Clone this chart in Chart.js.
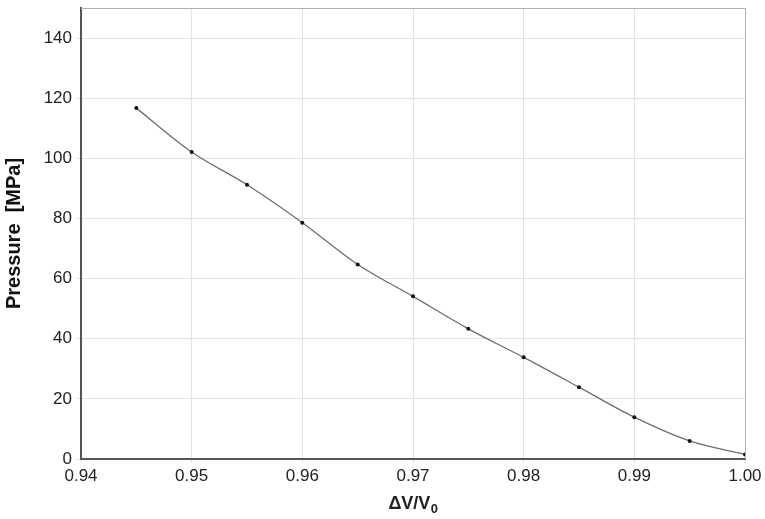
<!DOCTYPE html>
<html>
<head>
<meta charset="utf-8">
<script src="https://cdn.jsdelivr.net/npm/chart.js@4/dist/chart.umd.min.js"></script>
<style>
  html, body { margin: 0; padding: 0; background: #fff; }
  #wrap { width: 765px; height: 519px; position: relative; }
</style>
</head>
<body>
<div id="wrap"><canvas id="c"></canvas></div>
<script>
// Relative volume change ΔV/V0 and measured pressure (MPa)
const volumeRatio = [0.945, 0.950, 0.955, 0.960, 0.965, 0.970, 0.975, 0.980, 0.985, 0.990, 0.995, 1.000];
const pressure    = [116.7, 102.1, 91.2, 78.6, 64.7, 54.1, 43.3, 33.8, 23.9, 13.9, 6.0, 1.5];
const yTicks = [0, 20, 40, 60, 80, 100, 120, 140];

const points = volumeRatio.map((v, i) => ({ x: v, y: pressure[i] }));
const FONT = 'Liberation Sans, Arial, sans-serif';

// Frame the top and right sides of the plot area, and draw the x title with a subscript
const frame = {
  id: 'frame',
  afterDraw(chart) {
    const { ctx, chartArea: a } = chart;
    ctx.save();
    ctx.strokeStyle = '#b0b0b0';
    ctx.lineWidth = 1;
    ctx.beginPath();
    ctx.moveTo(a.left, a.top + 0.5);
    ctx.lineTo(a.right + 0.5, a.top + 0.5);
    ctx.lineTo(a.right + 0.5, a.bottom);
    ctx.stroke();

    const main = 'ΔV/V', sub = '0';
    ctx.fillStyle = '#222';
    ctx.textBaseline = 'alphabetic';
    ctx.font = 'bold 18px ' + FONT;
    const wMain = ctx.measureText(main).width;
    ctx.font = 'bold 13px ' + FONT;
    const wSub = ctx.measureText(sub).width;
    const cx = (a.left + a.right) / 2;
    const x0 = cx - (wMain + wSub) / 2;
    const base = 509;
    ctx.font = 'bold 18px ' + FONT;
    ctx.fillText(main, x0, base);
    ctx.font = 'bold 13px ' + FONT;
    ctx.fillText(sub, x0 + wMain + 0.5, base + 4);
    ctx.restore();
  }
};

new Chart(document.getElementById('c'), {
  type: 'scatter',
  data: {
    datasets: [{
      data: points,
      showLine: true,
      borderColor: '#6e6e6e',
      borderWidth: 1.3,
      cubicInterpolationMode: 'monotone',
      pointRadius: 2,
      pointBackgroundColor: '#111',
      pointBorderColor: '#111',
      pointBorderWidth: 0
    }]
  },
  options: {
    responsive: true,
    maintainAspectRatio: false,
    animation: false,
    layout: { padding: { top: 8, right: 20, left: 0, bottom: 0 } },
    plugins: { legend: { display: false }, tooltip: { enabled: false } },
    scales: {
      x: {
        type: 'linear',
        min: 0.94,
        max: 1.00,
        ticks: {
          stepSize: 0.01,
          color: '#222',
          font: { family: FONT, size: 17 },
          padding: 3,
          maxRotation: 0,
          callback: v => v.toFixed(2)
        },
        grid: { color: '#e2e2e2', lineWidth: 1, tickLength: 4, drawTicks: true },
        border: { color: '#555', width: 2 },
        title: { display: false },
        afterFit: s => { s.height = 60; s.paddingLeft = 0; s.paddingRight = 0; }
      },
      y: {
        min: 0,
        max: 150,
        afterBuildTicks: s => { s.ticks = yTicks.map(v => ({ value: v })); },
        ticks: {
          color: '#222',
          font: { family: FONT, size: 17 },
          padding: 4
        },
        grid: { color: '#e2e2e2', lineWidth: 1, tickLength: 5 },
        border: { color: '#555', width: 2 },
        title: {
          display: true,
          text: 'Pressure  [MPa]',
          color: '#111',
          font: { family: FONT, size: 20, weight: 'bold' },
          padding: { top: 2, bottom: 2 }
        },
        afterFit: s => { s.width = 81; s.paddingTop = 0; s.paddingBottom = 0; }
      }
    }
  },
  plugins: [frame]
});
</script>
</body>
</html>
